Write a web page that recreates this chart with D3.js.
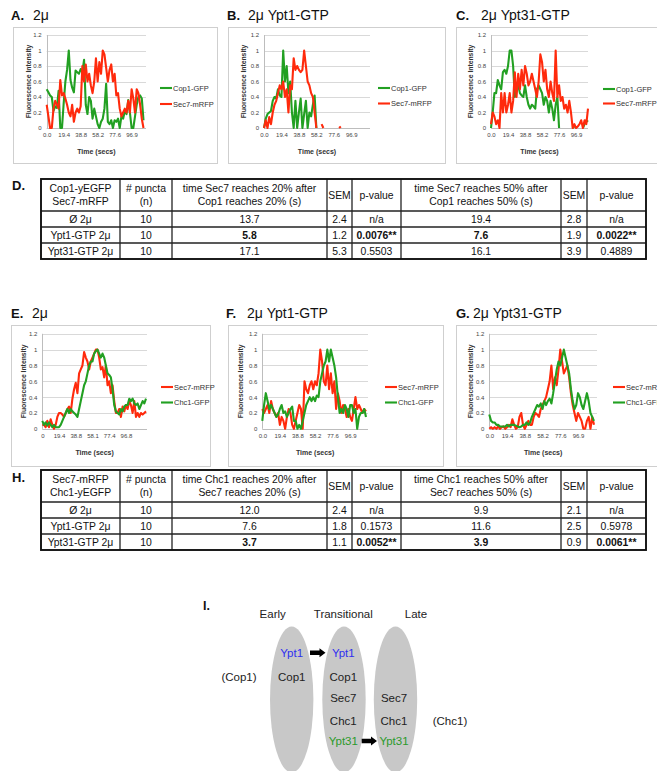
<!DOCTYPE html>
<html><head><meta charset="utf-8">
<script src="https://cdn.jsdelivr.net/npm/d3@7"></script>
<style>
body{margin:0;background:#fff}
svg{display:block}
text{font-family:"Liberation Sans",Arial,sans-serif}
</style>
</head><body>
<svg id="fig" width="657" height="771"></svg>
<script>
// ---------------- DATA ----------------
const yTickVals = [0, 0.2, 0.4, 0.6, 0.8, 1, 1.2];
const yTickLabels = ["0", "0.2", "0.4", "0.6", "0.8", "1", "1.2"];
const xLabelIdx = [0, 10, 20, 30, 40, 50];
const xLabelsStd = ["0.0", "19.4", "38.8", "58.2", "77.6", "96.9"];
const xLabelsE = ["0", "19.4", "38.8", "58.1", "77.4", "96.8"];
const yTitle = "Fluorescence Intensity";
const xTitle = "Time (secs)";

// Panel A: 2µ
const cop1A = [0.50,0.46,0.42,0.40,0.22,0.28,0.26,0.48,0.0,0.0, 0.32,0.6,0.75,1.0,0.62,0.52,0.46,0.74,0.72,0.7,
  0.76,0.72,0.88,0.3,0.18,0.40,0.35,0.12,0.25,0.15, 0.05,0.0,0.08,0.12,0.25,0.57,0.08,0.05,0.1,0.0,
  0.1,0.08,0.12,0.0,0.15,0.12,0.22,0.18,0.36,0.2, 0.0,0.0,0.15,0.3,0.4,0.42,0.38,0.1];
const sec7A = [0.3,0.15,0.0,0.0,0.25,0.35,0.3,0.25,0.62,0.42, 0.45,0.38,0.3,0.2,0.15,0.3,0.08,0.2,0.25,0.2,
  0.28,0.8,0.6,0.82,0.6,0.7,0.55,0.45,0.6,0.9, 0.6,0.85,0.7,1.0,0.95,0.78,0.6,0.75,0.82,0.6,
  0.7,0.42,0.45,0.25,0.15,0.2,0.25,0.2,0.35,0.2, 0.5,0.38,0.2,0.5,0.45,0.3,0.12,0.0];
// Panel B: 2µ Ypt1-GTP
const cop1B = [0.0,0.12,0.18,0.2,0.22,0.35,0.4,0.38,0.5,0.42, 0.4,1.0,0.6,0.8,0.45,0.6,0.2,0.0,0.35,0.0,
  0.2,0.38,0.0,0.18,0.35,0.0,0.2,0.15,0.3,0.42, 0.0,null,null,null,null,null,null,null,null,null,
  null,null,null,null,null,null,null,null,null,null, null,null,null,null,null,null,null,null,null,null];
const sec7B = [0.0,0.1,0.0,0.14,0.05,0.2,0.3,0.35,0.45,0.55, 0.5,0.6,0.4,0.5,0.2,0.55,0.5,0.9,0.75,0.8,
  0.75,0.72,0.75,1.0,0.8,0.6,0.55,0.45,0.4,0.2, 0.0,null,null,0.05,0.0,null,null,null,null,null,
  null,null,null,0.0,0.02,null,null,null,null,null, null,null,null,null,null,null,null,null,null,null];
// Panel C: 2µ Ypt31-GTP
const cop1C = [0.0,0.2,0.45,0.45,0.62,0.55,0.5,0.72,0.75,0.7, 0.8,1.0,1.0,0.8,0.4,0.5,0.55,0.45,0.42,0.4,
  0.55,0.4,0.3,0.25,0.3,0.28,0.25,0.5,0.55,0.5, 0.45,0.3,0.4,0.35,0.2,0.35,0.25,0.1,0.3,0.4,
  0.0,null,null,null,null,null,null,null,0.0,0.02, null,null,null,null,0.0,0.05,0.1,0.08];
const sec7C = [0.05,0.2,0.15,0.05,0.1,0.0,0.45,0.2,0.45,0.2, 0.3,0.45,0.2,0.35,0.72,0.4,0.7,0.5,0.75,0.55,
  0.8,0.7,0.55,0.6,0.7,0.6,0.5,0.4,0.6,0.95, 0.85,0.6,0.75,0.5,0.4,0.6,0.45,0.35,1.0,0.4,
  0.55,0.35,0.4,0.25,0.3,0.2,0.35,0.2,0.0,0.05, 0.0,0.02,0.05,0.1,0.0,0.1,0.05,0.25];
// Panel E: 2µ
const sec7E = [0.05,0.05,0.02,0.1,0.02,0.12,0.05,0.0,0.05,0.15, 0.2,0.2,0.18,0.15,0.2,0.25,0.28,0.2,0.38,0.5,
  0.58,0.45,0.7,0.75,0.8,0.97,0.9,0.85,0.75,0.85, 0.9,0.95,1.0,1.0,0.9,0.75,0.78,0.65,0.8,0.55,
  0.6,0.45,0.55,0.35,0.2,0.2,0.25,0.15,0.28,0.22, 0.3,0.25,0.35,0.3,0.2,0.35,0.15,0.2,0.15,0.2, 0.18,0.2,0.22];
const chc1E = [0.1,0.05,0.08,0.04,0.08,0.05,0.02,0.05,0.02,0.02, 0.02,0.05,0.1,0.15,0.2,0.25,0.2,0.25,0.22,0.2,
  0.18,0.15,0.25,0.35,0.45,0.55,0.6,0.7,0.8,0.85, 0.85,0.95,0.98,1.0,0.95,0.9,0.95,0.9,0.8,0.7,
  0.68,0.65,0.5,0.3,0.22,0.2,0.18,0.25,0.22,0.28, 0.3,0.3,0.38,0.35,0.38,0.32,0.3,0.32,0.25,0.3, 0.35,0.32,0.38];
// Panel F: 2µ Ypt1-GTP
const sec7F = [0.25,0.2,0.25,0.3,0.2,0.35,0.25,0.2,0.15,0.2, 0.05,0.15,0.1,0.0,0.15,0.25,0.2,0.05,0.0,0.1,
  0.2,0.3,0.25,0.0,0.6,0.5,0.45,0.55,0.6,0.5, 0.6,0.55,0.7,1.0,0.85,0.6,0.55,0.8,0.5,0.7,
  0.45,0.6,0.25,0.45,0.35,0.2,0.3,0.25,0.15,0.25, 0.15,0.1,0.25,0.4,0.25,0.3,0.25,0.2,0.25,0.22];
const chc1F = [0.1,0.3,0.45,0.35,0.25,0.3,0.25,0.2,0.15,0.18, 0.25,0.3,0.2,0.22,0.15,0.2,0.25,0.28,0.1,0.1,
  0.0,0.05,0.0,0.1,0.2,0.3,0.35,0.4,0.35,0.4, 0.35,0.42,0.4,0.6,0.7,0.8,0.85,1.0,0.85,1.0,
  0.9,0.8,0.65,0.4,0.2,0.25,0.2,0.3,0.25,0.15, 0.3,0.3,0.2,0.25,0.0,0.15,0.2,0.2,0.25,0.15];
// Panel G: 2µ Ypt31-GTP
const sec7G = [0.0,0.02,0.0,0.02,0.0,0.03,0.0,0.02,0.03,0.0, 0.02,0.05,0.02,0.12,0.05,0.0,0.02,0.15,0.2,0.05,
  0.0,0.05,0.1,0.05,0.05,0.15,0.2,0.18,0.15,0.25, 0.3,0.35,0.4,0.5,0.6,0.8,0.5,0.65,0.55,0.75,
  1.0,0.85,0.7,0.75,0.8,0.65,0.45,0.3,0.2,0.1, 0.2,0.15,0.1,0.0,0.0,0.1,0.15,0.0,0.15,0.05];
const chc1G = [0.18,0.1,0.08,0.08,0.05,0.05,0.03,0.03,0.03,0.03, 0.05,0.03,0.05,0.05,0.05,0.04,0.03,0.02,0.03,0.05,
  0.05,0.08,0.05,0.08,0.15,0.2,0.25,0.3,0.28,0.32, 0.25,0.35,0.3,0.35,0.38,0.32,0.45,0.6,0.75,0.85,
  0.8,0.9,1.0,0.9,0.8,0.7,0.5,0.35,0.25,0.3, 0.45,0.4,0.3,0.25,0.35,0.45,0.35,0.2,0.15,0.1];

const seriesNamesTop = ["Cop1-GFP", "Sec7-mRFP"];
const seriesNamesBottom = ["Sec7-mRFP", "Chc1-GFP"];
const panelLetters = ["A.", "B.", "C.", "E.", "F.", "G."];
const panelTitles = ["2\u03bc", "2\u03bc Ypt1-GTP", "2\u03bc Ypt31-GTP", "2\u03bc", "2\u03bc Ypt1-GTP", "2\u03bc Ypt31-GTP"];

// Tables
const tableDHeader = [["Cop1-yEGFP","Sec7-mRFP"],["# puncta","(n)"],["time Sec7 reaches 20% after","Cop1 reaches 20% (s)"],["SEM"],["p-value"],["time Sec7 reaches 50% after","Cop1 reaches 50% (s)"],["SEM"],["p-value"]];
const tableDRows = [
  ["\u00d8 2\u03bc","10","13.7","2.4","n/a","19.4","2.8","n/a"],
  ["Ypt1-GTP 2\u03bc","10","5.8","1.2","0.0076**","7.6","1.9","0.0022**"],
  ["Ypt31-GTP 2\u03bc","10","17.1","5.3","0.5503","16.1","3.9","0.4889"]];
const tableDBold = [[],[2,4,5,7],[]];
const tableHHeader = [["Sec7-mRFP","Chc1-yEGFP"],["# puncta","(n)"],["time Chc1 reaches 20% after","Sec7 reaches 20% (s)"],["SEM"],["p-value"],["time Chc1 reaches 50% after","Sec7 reaches 50% (s)"],["SEM"],["p-value"]];
const tableHRows = [
  ["\u00d8 2\u03bc","10","12.0","2.4","n/a","9.9","2.1","n/a"],
  ["Ypt1-GTP 2\u03bc","10","7.6","1.8","0.1573","11.6","2.5","0.5978"],
  ["Ypt31-GTP 2\u03bc","10","3.7","1.1","0.0052**","3.9","0.9","0.0061**"]];
const tableHBold = [[],[],[2,4,5,7]];

// Diagram I
const stageNames = ["Early", "Transitional", "Late"];
const stageContents = [
  [["Ypt1","blue"],["Cop1","black"]],
  [["Ypt1","blue"],["Cop1","black"],["Sec7","black"],["Chc1","black"],["Ypt31","green"]],
  [["Sec7","black"],["Chc1","black"],["Ypt31","green"]]];
const sideLabels = ["(Cop1)", "(Chc1)"];

// ---------------- DRAW ----------------
const svg = d3.select("#fig");
const FONT = '"Liberation Sans", Arial, sans-serif';
const GREEN = "#22a022", RED = "#ff2a0c";

function panel(cfg) {
  const g = svg.append("g");
  g.append("rect").attr("x", cfg.box[0] + 0.5).attr("y", cfg.box[1] + 0.5)
    .attr("width", cfg.box[2]).attr("height", cfg.box[3])
    .attr("fill", "#fff").attr("stroke", "#cfcfcf").attr("stroke-width", 1);
  const t = g.append("text").attr("x", cfg.title[0]).attr("y", cfg.title[1]).attr("font-size", 14).attr("fill", "#111");
  t.append("tspan").attr("font-weight", "bold").attr("font-size", 13).text(cfg.letter);
  t.append("tspan").attr("x", cfg.title[2]).text(cfg.text);

  const y = d3.scaleLinear().domain([0, 1.2]).range([cfg.yB, cfg.yT]);
  const n = cfg.series[0].values.length;
  const x = d3.scaleLinear().domain([0, n - 1]).range([cfg.x0, cfg.x1]);

  g.selectAll(".grid").data(yTickVals.slice(1)).join("line")
    .attr("x1", cfg.x0).attr("x2", cfg.gridR)
    .attr("y1", d => Math.round(y(d)) + 0.5).attr("y2", d => Math.round(y(d)) + 0.5)
    .attr("stroke", "#d9d9d9").attr("stroke-width", 1);
  g.append("line").attr("x1", cfg.x0).attr("x2", cfg.gridR)
    .attr("y1", Math.round(y(0)) + 0.5).attr("y2", Math.round(y(0)) + 0.5)
    .attr("stroke", "#bdbdbd");
  g.append("line").attr("x1", Math.round(cfg.x0) + 0.5).attr("x2", Math.round(cfg.x0) + 0.5)
    .attr("y1", y(1.2)).attr("y2", y(0)).attr("stroke", "#bdbdbd");

  const ya = d3.axisLeft(y).tickValues(yTickVals).tickFormat((d, i) => yTickLabels[i]).tickSize(0).tickPadding(5);
  const yg = g.append("g").attr("transform", `translate(${cfg.x0},0)`).call(ya);
  yg.select(".domain").remove();
  yg.selectAll("text").attr("font-size", 6).attr("fill", "#444").attr("font-family", FONT);

  const xa = d3.axisBottom(x).tickValues(xLabelIdx).tickFormat((d, i) => cfg.xLabels[i]).tickSize(0).tickPadding(5);
  const xg = g.append("g").attr("transform", `translate(0,${cfg.yB})`).call(xa);
  xg.select(".domain").remove();
  xg.selectAll("text").attr("font-size", 6).attr("fill", "#444").attr("font-family", FONT);

  g.append("text").attr("x", (cfg.x0 + cfg.gridR) / 2).attr("y", cfg.yB + 26)
    .attr("text-anchor", "middle").attr("font-size", 7).attr("font-weight", "bold").attr("fill", "#333").text(xTitle);
  g.append("text").attr("transform", `translate(${cfg.yTitleX},${(cfg.yT + cfg.yB) / 2}) rotate(-90)`)
    .attr("text-anchor", "middle").attr("dominant-baseline", "central")
    .attr("font-size", 6.8).attr("font-weight", "bold").attr("fill", "#333").text(yTitle);

  const line = d3.line().defined(d => d != null).x((d, i) => x(i)).y(d => y(d));
  cfg.series.forEach(s => {
    g.append("path").attr("d", line(s.values)).attr("fill", "none")
      .attr("stroke", s.color).attr("stroke-width", 2.1).attr("stroke-linejoin", "round");
  });
  cfg.series.forEach((s, i) => {
    const ly = cfg.legend[1 + i];
    g.append("line").attr("x1", cfg.legend[0]).attr("x2", cfg.legend[0] + 12)
      .attr("y1", ly).attr("y2", ly).attr("stroke", s.color).attr("stroke-width", 2.1);
    g.append("text").attr("x", cfg.legend[0] + 13).attr("y", ly).attr("dominant-baseline", "central")
      .attr("font-size", 7.5).attr("fill", "#333").text(s.name);
  });
}

const topSeries = (c, s) => [{name: seriesNamesTop[0], values: c, color: GREEN}, {name: seriesNamesTop[1], values: s, color: RED}];
const botSeries = (s, c) => [{name: seriesNamesBottom[0], values: s, color: RED}, {name: seriesNamesBottom[1], values: c, color: GREEN}];

panel({letter: panelLetters[0], text: panelTitles[0], title: [11, 19.5, 33], box: [13, 27, 204, 136],
  x0: 46.7, x1: 143.5, gridR: 146, yT: 35, yB: 128, yTitleX: 28, xLabels: xLabelsStd,
  legend: [160, 88, 104], series: topSeries(cop1A, sec7A)});
panel({letter: panelLetters[1], text: panelTitles[1], title: [227, 19.5, 248], box: [228, 27, 217, 136],
  x0: 264, x1: 367, gridR: 370, yT: 35, yB: 128, yTitleX: 243, xLabels: xLabelsStd,
  legend: [378, 88, 103.5], series: topSeries(cop1B, sec7B)});
panel({letter: panelLetters[2], text: panelTitles[2], title: [456, 19.5, 481], box: [456, 27, 215, 136],
  x0: 491, x1: 588, gridR: 588, yT: 35, yB: 128, yTitleX: 470, xLabels: xLabelsStd,
  legend: [603, 89, 103.5], series: topSeries(cop1C, sec7C)});
panel({letter: panelLetters[3], text: panelTitles[3], title: [11, 317.5, 32], box: [11, 325, 199, 141],
  x0: 42.3, x1: 146, gridR: 147, yT: 333.8, yB: 428.8, yTitleX: 23.5, xLabels: xLabelsE,
  legend: [161, 387, 402.5], series: botSeries(sec7E, chc1E)});
panel({letter: panelLetters[4], text: panelTitles[4], title: [226, 317.5, 247], box: [228, 325, 215, 141],
  x0: 262.3, x1: 366, gridR: 368, yT: 333.8, yB: 428.8, yTitleX: 240, xLabels: xLabelsStd,
  legend: [385, 387, 402.5], series: botSeries(sec7F, chc1F)});
panel({letter: panelLetters[5], text: panelTitles[5], title: [456, 317.5, 473], box: [456, 325, 215, 141],
  x0: 489.3, x1: 594, gridR: 597, yT: 333.8, yB: 428.8, yTitleX: 470.7, xLabels: xLabelsStd,
  legend: [613, 387, 402.5], series: botSeries(sec7G, chc1G)});

// ---- tables ----
function table(cfg) {
  const g = svg.append("g");
  g.append("text").attr("x", 12).attr("y", cfg.labelY).attr("font-size", 13).attr("font-weight", "bold").attr("fill", "#111").text(cfg.label);
  const cols = cfg.cols, rows = cfg.rows;
  cols.slice(1, -1).forEach(cx => g.append("line").attr("x1", cx).attr("x2", cx).attr("y1", rows[0]).attr("y2", rows[rows.length - 1]).attr("stroke", "#222").attr("stroke-width", 1.3));
  rows.slice(1, -1).forEach(ry => g.append("line").attr("x1", cols[0]).attr("x2", cols[cols.length - 1]).attr("y1", ry).attr("y2", ry).attr("stroke", "#222").attr("stroke-width", 1.3));
  g.append("rect").attr("x", cols[0]).attr("y", rows[0]).attr("width", cols[cols.length - 1] - cols[0]).attr("height", rows[rows.length - 1] - rows[0])
    .attr("fill", "none").attr("stroke", "#111").attr("stroke-width", 1.9);
  const fs = 10.4;
  cfg.header.forEach((lines, ci) => {
    const cx = (cols[ci] + cols[ci + 1]) / 2;
    const cy = (rows[0] + rows[1]) / 2;
    lines.forEach((ln, li) => {
      g.append("text").attr("x", cx).attr("y", cy + (li - (lines.length - 1) / 2) * 12.5)
        .attr("text-anchor", "middle").attr("dominant-baseline", "central").attr("font-size", fs).attr("fill", "#111").text(ln);
    });
  });
  cfg.data.forEach((row, ri) => {
    const cy = (rows[ri + 1] + rows[ri + 2]) / 2;
    row.forEach((v, ci) => {
      g.append("text").attr("x", (cols[ci] + cols[ci + 1]) / 2).attr("y", cy)
        .attr("text-anchor", "middle").attr("dominant-baseline", "central").attr("font-size", fs)
        .attr("font-weight", cfg.bold[ri].includes(ci) ? "bold" : "normal").attr("fill", "#111").text(v);
    });
  });
}
const tableCols = [41, 120, 172, 327, 352, 401, 561, 587, 646];
table({label: "D.", labelY: 190, cols: tableCols, rows: [179, 211, 227, 243, 259], header: tableDHeader, data: tableDRows, bold: tableDBold});
table({label: "H.", labelY: 482, cols: tableCols, rows: [470, 502, 518, 534, 550], header: tableHHeader, data: tableHRows, bold: tableHBold});

// ---- diagram I ----
(function () {
  const g = svg.append("g");
  const colors = {blue: "#2f2ff0", green: "#2b9a2b", black: "#222"};
  const cxs = [291.7, 344, 395.5];
  const rowY = {Ypt1: 657, Cop1: 680.6, Sec7: 702.3, Chc1: 725, Ypt31: 745};
  g.append("text").attr("x", 203).attr("y", 610).attr("font-size", 12.5).attr("font-weight", "bold").attr("fill", "#111").text("I.");
  const headX = [272.7, 343.3, 416];
  stageNames.forEach((s, i) => g.append("text").attr("x", headX[i]).attr("y", 618).attr("text-anchor", "middle")
    .attr("font-size", 11.5).attr("fill", "#222").text(s));
  cxs.forEach(cx => g.append("ellipse").attr("cx", cx).attr("cy", 699.5).attr("rx", 21.7).attr("ry", 73).attr("fill", "#c8c8c8"));
  stageContents.forEach((items, i) => items.forEach(([name, c]) => {
    g.append("text").attr("x", cxs[i] - (i === 2 ? 1.5 : 0) - (i === 1 ? 0.7 : 0)).attr("y", rowY[name]).attr("text-anchor", "middle")
      .attr("font-size", 11.5).attr("fill", colors[c]).text(name);
  }));
  g.append("text").attr("x", 239).attr("y", rowY.Cop1).attr("text-anchor", "middle").attr("font-size", 11.5).attr("fill", "#222").text(sideLabels[0]);
  g.append("text").attr("x", 450).attr("y", rowY.Chc1).attr("text-anchor", "middle").attr("font-size", 11.5).attr("fill", "#222").text(sideLabels[1]);
  function arrow(x1, x2, yc) {
    const p = d3.path();
    p.moveTo(x1, yc - 2.2); p.lineTo(x2 - 6, yc - 2.2); p.lineTo(x2 - 6, yc - 4.5); p.lineTo(x2, yc);
    p.lineTo(x2 - 6, yc + 4.5); p.lineTo(x2 - 6, yc + 2.2); p.lineTo(x1, yc + 2.2); p.closePath();
    g.append("path").attr("d", p.toString()).attr("fill", "#000");
  }
  arrow(310, 325.5, 652.8);
  arrow(361.7, 377, 741);
})();
</script>
</body></html>
